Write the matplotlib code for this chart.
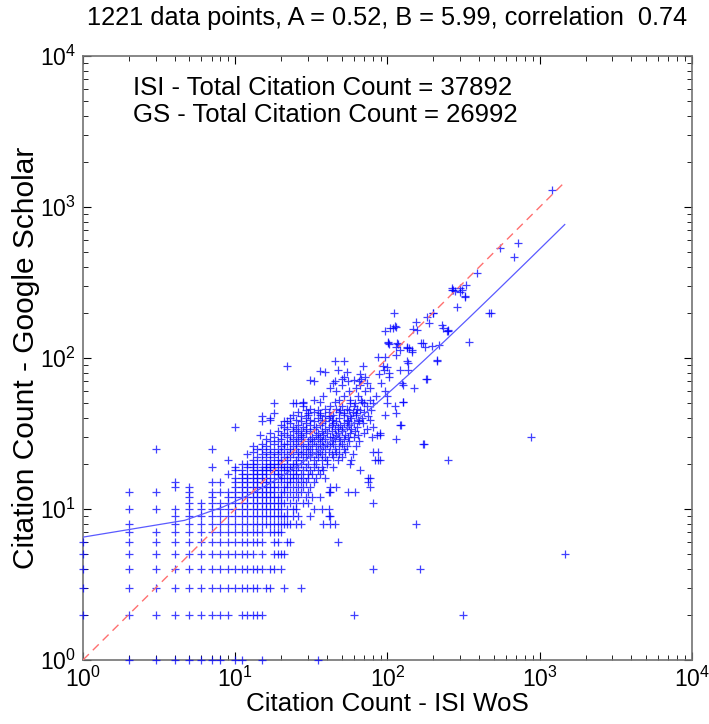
import numpy as np
import matplotlib
matplotlib.use("Agg")
import matplotlib.pyplot as plt
from matplotlib import font_manager

plt.rcParams['font.family'] = ['Liberation Sans', 'DejaVu Sans']
plt.rcParams['mathtext.default'] = 'regular'


def has_font(name):
    try:
        font_manager.findfont(name, fallback_to_default=False)
        return True
    except ValueError:
        return False


# tick labels in the picture are narrow; use a condensed face if there is one
if has_font('Liberation Sans Narrow'):
    tick_family, tick_size = 'Liberation Sans Narrow', 18
else:
    tick_family, tick_size = 'Liberation Sans', 16.5

# fitted line GS = A * ISI + B
A, B = 0.52, 5.99
n_points = 1221
corr = 0.74
isi_total = 37892
gs_total = 26992

# GS count -> list of ISI counts
gs_rows = {
    1: [2, 3, 4, 5, 6, 7, 8, 10, 11, 15, 35],
    2: [1, 2, 3, 4, 5, 6, 7, 8, 9, 11, 12, 13, 14, 15, 60, 315],
    3: [1, 2, 3, 4, 5, 6, 7, 8, 9, 10, 11, 12, 13, 14, 16, 17, 21, 27],
    4: [1, 2, 3, 4, 5, 6, 7, 8, 9, 10, 11, 12, 13, 14, 15, 17, 18, 20, 80, 164],
    5: [1, 2, 3, 4, 5, 6, 7, 8, 9, 10, 11, 12, 13, 15, 18, 19, 20, 21, 1460],
    6: [1, 2, 3, 4, 5, 6, 7, 8, 9, 10, 11, 12, 13, 14, 15, 18, 19, 22, 23, 47],
    7: [2, 3, 4, 5, 6, 7, 8, 9, 10, 11, 12, 13, 14, 15, 17, 18, 19, 20],
    8: [2, 4, 5, 6, 7, 8, 9, 10, 11, 12, 13, 14, 15, 16, 17, 18, 19, 20, 21, 22, 23,
        25, 27, 38, 42, 45, 155],
    9: [4, 5, 6, 7, 8, 9, 10, 11, 12, 13, 14, 15, 16, 17, 18, 19, 20, 21, 22, 24, 26,
        31, 41, 42],
    10: [2, 3, 4, 5, 6, 7, 8, 9, 10, 11, 12, 13, 14, 15, 16, 17, 18, 19, 20, 22, 24,
         25, 33, 37, 41],
    11: [5, 6, 7, 8, 9, 10, 11, 12, 13, 14, 15, 16, 17, 18, 19, 20, 21, 23, 25, 28, 30, 80],
    12: [5, 7, 9, 10, 11, 12, 13, 14, 15, 16, 17, 18, 19, 20, 22, 24, 26, 29, 32, 36],
    13: [2, 3, 5, 7, 8, 9, 10, 11, 12, 13, 14, 15, 16, 17, 18, 20, 21, 23, 25, 27, 30,
         41, 42, 55, 61],
    14: [4, 5, 10, 11, 12, 13, 14, 15, 16, 17, 18, 19, 21, 22, 24, 26, 28, 31, 42, 46, 77],
    15: [4, 7, 8, 10, 11, 12, 13, 14, 15, 16, 17, 18, 20, 22, 23, 25, 27, 29, 33, 75],
    16: [10, 11, 12, 13, 14, 15, 16, 17, 19, 20, 21, 23, 24, 26, 28, 30, 34, 39, 75, 77],
    17: [9, 11, 12, 13, 14, 15, 16, 18, 19, 20, 22, 24, 25, 27, 30, 32, 36],
    18: [10, 11, 13, 14, 15, 16, 17, 18, 19, 21, 22, 23, 25, 28, 31, 35, 38, 66],
    19: [7, 10, 12, 13, 15, 16, 17, 18, 20, 21, 23, 24, 26, 29, 33, 37, 44],
    20: [11, 12, 13, 14, 16, 17, 18, 19, 20, 22, 24, 25, 27, 30, 34, 40, 57],
    21: [9, 13, 15, 17, 19, 20, 22, 25, 28, 33, 37, 40, 47, 58, 83, 87, 89, 251],
    22: [14, 16, 18, 21, 23, 26, 29, 31, 35, 39, 44, 50],
    23: [12, 15, 17, 19, 22, 24, 27, 30, 34, 37, 43, 48, 59],
    24: [13, 16, 18, 20, 23, 26, 28, 32, 36, 41, 46, 53, 80, 87],
    25: [3, 7, 14, 15, 17, 19, 21, 23, 25, 29, 31, 35, 39, 45, 52],
    26: [13, 16, 20, 24, 27, 30, 34, 38, 42, 48, 54, 62],
    27: [15, 18, 21, 22, 25, 28, 32, 36, 40, 44, 50, 172, 174],
    28: [17, 19, 23, 26, 30, 33, 37, 43, 49, 56, 65],
    29: [16, 20, 24, 27, 31, 35, 39, 45, 52, 113],
    30: [18, 22, 25, 28, 32, 36, 42, 44, 48, 55, 60, 79, 877],
    31: [14.5, 20, 23, 27, 34, 38, 46, 53, 64, 85, 89],
    32: [17, 21, 26, 29, 35, 40, 47, 57, 70, 89],
    33: [19, 24, 27, 31, 37, 43, 50, 61],
    34: [22, 25, 29, 33, 39, 45, 50, 58, 73],
    35: [10, 21, 24, 28, 34, 41, 47, 54, 63, 80],
    36: [20, 26, 31, 36, 43, 49, 56, 121, 123],
    37: [23, 29, 37, 44, 52, 60, 69],
    38: [15, 21, 22, 27, 33, 39, 46, 55, 65],
    39: [17, 25, 31, 37, 43, 54, 64, 77],
    40: [17, 23, 29, 35, 41, 48, 58, 68],
    41: [15, 27, 39, 42, 57, 75],
    42: [24, 30, 36, 44, 52, 62, 96],
    43: [18, 30, 36, 52, 62, 114],
    44: [26, 33, 41, 48, 59, 70],
    45: [29, 35, 49, 56, 66, 78],
    46: [31, 39, 46, 54, 63],
    48: [28, 42, 50, 60, 73, 112],
    50: [18, 24, 25, 28, 57, 61, 70, 80, 99],
    51: [28, 36, 45, 68, 126, 127],
    53: [33, 48, 57, 67, 77],
    56: [38, 52, 64, 84, 99],
    60: [46, 56, 71, 96],
    63: [42, 62, 77, 149],
    66: [50, 66, 127],
    68: [44, 73, 91, 124],
    70: [33, 45, 55, 65],
    72: [31, 60],
    73: [50, 67, 179, 181],
    75: [52, 71, 103],
    78: [66, 88],
    80: [103],
    81: [39, 54],
    82: [36],
    83: [47, 95, 121, 137],
    87: [99],
    88: [22, 69, 93],
    92: [137],
    95: [134, 212],
    96: [45, 52],
    97: [211],
    101: [87, 96],
    104: [114],
    110: [144],
    113: [121, 144],
    116: [134, 139],
    119: [114, 134, 177],
    120: [195],
    122: [218],
    124: [103, 118],
    125: [101, 115, 165, 170],
    128: [101, 343],
    150: [247, 251],
    151: [96],
    153: [156, 251],
    155: [148],
    157: [104, 108, 232],
    161: [113],
    163: [112],
    165: [227],
    170: [186],
    174: [155],
    188: [181],
    198: [110, 198, 200],
    200: [465, 475],
    216: [288],
    254: [321],
    258: [324],
    275: [300],
    277: [277],
    284: [265, 270, 310],
    290: [267, 300],
    303: [326],
    366: [386],
    467: [675],
    532: [550],
    581: [720],
    1300: [1200],
}

isi = []
gs = []
for g, xs in gs_rows.items():
    for v in xs:
        isi.append(v)
        gs.append(g)
isi = np.array(isi, dtype=float)
gs = np.array(gs, dtype=float)

fig = plt.figure(figsize=(7.09, 7.24), dpi=100)
ax = fig.add_axes([0.117, 0.0884, 0.859, 0.8343])

ax.plot(isi, gs, '+', color='blue', markersize=5.5, markeredgewidth=0.9,
        alpha=0.75, clip_on=False, zorder=3)

xx = np.linspace(1, isi.max(), 400)
ax.plot(xx, A * xx + B, '-', color='#5a5aff', linewidth=0.9, zorder=4)
ax.plot([1, isi.max()], [1, isi.max()], '--', color='#ff7070', linewidth=1.0,
        dashes=(6, 4), zorder=4)

ax.set_xscale('log')
ax.set_yscale('log')
ax.set_xlim(1, 1e4)
ax.set_ylim(1, 1e4)

ax.tick_params(which='both', direction='in', top=True, right=True, colors='black',
               labelsize=tick_size, labelfontfamily=tick_family)
ax.tick_params(which='major', length=6, width=0.8, pad=5)
ax.tick_params(which='minor', length=3.5, width=0.6)
for s in ax.spines.values():
    s.set_color('0.45')
    s.set_linewidth(1.2)

ax.set_xlabel('Citation Count - ISI WoS', fontsize=18.7, labelpad=0)
ax.set_ylabel('Citation Count - Google Scholar', fontsize=21.5, labelpad=0)
ax.set_title('%d data points, A = %.2f, B = %.2f, correlation  %.2f' % (n_points, A, B, corr),
             fontsize=18.3, pad=22)

ax.text(0.082, 0.947, 'ISI - Total Citation Count = %d' % isi_total,
        transform=ax.transAxes, fontsize=18.5, va='center')
ax.text(0.082, 0.902, 'GS - Total Citation Count = %d' % gs_total,
        transform=ax.transAxes, fontsize=18.5, va='center')

fig.savefig('out.png', dpi=100)
